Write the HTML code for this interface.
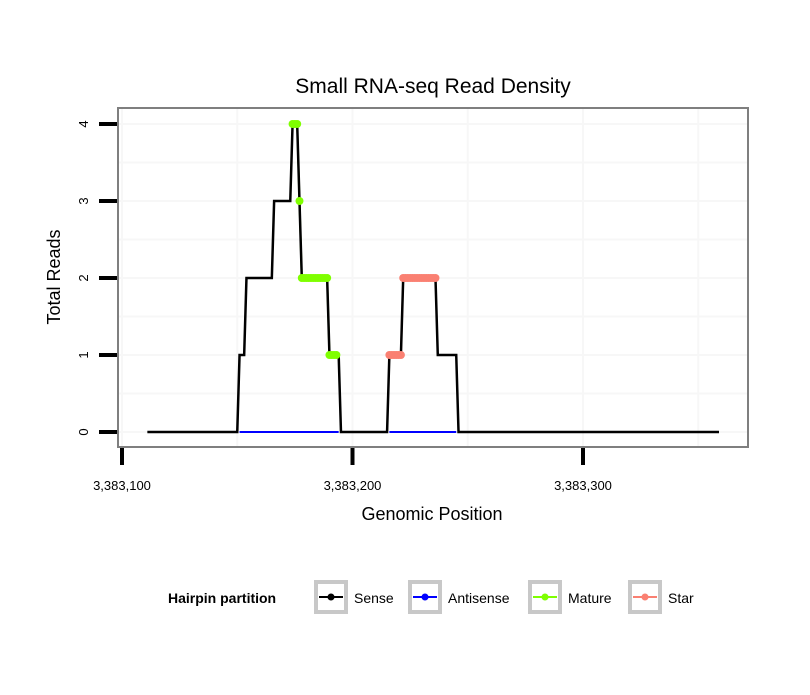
<!DOCTYPE html>
<html><head><meta charset="utf-8"><style>
body{margin:0;background:#fff;font-family:"Liberation Sans",sans-serif}
</style></head><body>
<svg id="chart" width="810" height="690" viewBox="0 0 810 690">
<text x="433" y="93" text-anchor="middle" font-size="21">Small RNA-seq Read Density</text>
<rect x="118" y="108" width="630" height="339" fill="#fff"/>
<g id="grid"></g>
<g id="series"></g>
<rect x="118" y="108" width="630" height="339" fill="none" stroke="#7f7f7f" stroke-width="2"/>
<g id="axes"></g>
<text x="432" y="520" text-anchor="middle" font-size="18">Genomic Position</text>
<text transform="translate(60,277) rotate(-90)" text-anchor="middle" font-size="18">Total Reads</text>
<g id="legend">
<text x="168" y="603" font-size="14" font-weight="bold">Hairpin partition</text>
</g>
</svg>
<script>
const xTicks=[3383100,3383200,3383300];
const yTicks=[0,1,2,3,4];
// runs: [startPos, endPos, value]
const senseRuns=[[3383111,3383150,0],[3383151,3383153,1],[3383154,3383165,2],[3383166,3383173,3],[3383174,3383176,4],[3383177,3383177,3],[3383178,3383189,2],[3383190,3383194,1],[3383195,3383215,0],[3383216,3383221,1],[3383222,3383236,2],[3383237,3383245,1],[3383246,3383359,0]];
const antisenseRuns=[[3383151,3383194,0],[3383216,3383245,0]];
const matureRuns=[[3383174,3383176,4],[3383177,3383177,3],[3383178,3383189,2],[3383190,3383193,1]];
const starRuns=[[3383216,3383221,1],[3383222,3383236,2]];
const legendLabels=["Sense","Antisense","Mature","Star"];
const legendColors=["#000","#0000ff","#7fff00","#fa8072"];

const NS="http://www.w3.org/2000/svg";
const xs=p=>122+(p-3383100)*2.305;
const ys=v=>432-v*77;
function mk(tag,attrs,parent){const e=document.createElementNS(NS,tag);for(const k in attrs)e.setAttribute(k,attrs[k]);parent.appendChild(e);return e;}
const grid=document.getElementById('grid'),axes=document.getElementById('axes'),series=document.getElementById('series'),legend=document.getElementById('legend');
for(let v=-0.5;v<=4.5;v+=0.5){const y=ys(v);if(y<110||y>445)continue;
const l=mk('line',{x1:119,x2:747,y1:y,y2:y,stroke:'#f7f7f7','stroke-width':2},grid);

}
for(let p=3383050;p<=3383400;p+=50){const x=xs(p);if(x<120||x>746)continue;
const l=mk('line',{x1:x,x2:x,y1:109,y2:446,stroke:'#f7f7f7','stroke-width':2},grid);

}
yTicks.forEach(v=>{const y=ys(v);
const t=mk('line',{x1:99,x2:117,y1:y,y2:y,stroke:'#000','stroke-width':4},axes);


const tx=mk('text',{transform:`translate(88,${y}) rotate(-90)`,'text-anchor':'middle','font-size':13},axes);
tx.textContent=v;

});
xTicks.forEach(p=>{const x=xs(p);
const t=mk('line',{x1:x,x2:x,y1:448,y2:465,stroke:'#000','stroke-width':4},axes);


const tx=mk('text',{x:x,y:490,'text-anchor':'middle','font-size':13},axes);
tx.textContent=p.toLocaleString('en-US');

});
function pts(runs){const a=[];runs.forEach(r=>{for(let p=r[0];p<=r[1];p++)a.push([p,r[2]]);});return a;}
function drawLine(runs,color,w,name){const a=pts(runs);
let segs=[[]];a.forEach((q,i)=>{if(i>0&&q[0]!==a[i-1][0]+1)segs.push([]);segs[segs.length-1].push(q);});
segs.forEach(s=>{const pl=mk('polyline',{points:s.map(q=>xs(q[0])+','+ys(q[1])).join(' '),fill:'none',stroke:color,'stroke-width':w},series);

});}
function drawPts(runs,color,name){pts(runs).forEach(q=>{const c=mk('circle',{cx:xs(q[0]),cy:ys(q[1]),r:4,fill:color},series);

});}
drawLine(matureRuns,'#7fff00',2,'mature');
drawLine(starRuns,'#fa8072',2,'star');
drawLine(senseRuns,'#000',2.5,'sense');
drawLine(antisenseRuns,'#0000ff',2,'antisense');
drawPts(matureRuns,'#7fff00','mature');
drawPts(starRuns,'#fa8072','star');
const lx=[314,408,528,628];
legendLabels.forEach((lab,i)=>{const x=lx[i];
const k=mk('rect',{x:x+2,y:582,width:30,height:30,fill:'#fff',stroke:'#c8c8c8','stroke-width':4},legend);


mk('line',{x1:x+5,x2:x+29,y1:597,y2:597,stroke:legendColors[i],'stroke-width':2},legend);
mk('circle',{cx:x+17,cy:597,r:3.5,fill:legendColors[i]},legend);
const t=mk('text',{x:x+40,y:603,'font-size':14},legend);
t.textContent=lab;

});
</script>
</body></html>
